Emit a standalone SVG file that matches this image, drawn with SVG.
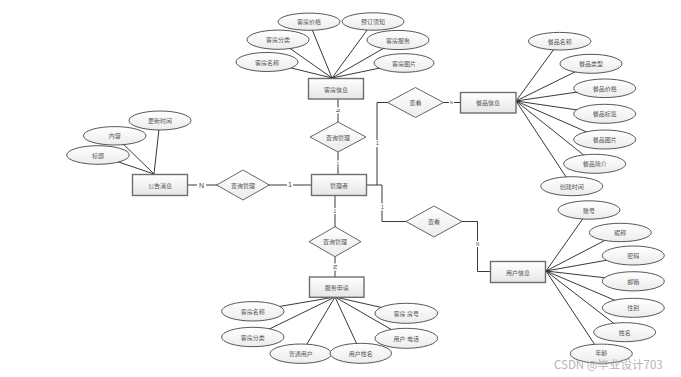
<svg xmlns="http://www.w3.org/2000/svg" width="681" height="377" viewBox="0 0 681 377">
<defs>
<linearGradient id="gb" x1="0" y1="0" x2="0" y2="1"><stop offset="0" stop-color="#ffffff"/><stop offset="1" stop-color="#e6e6e6"/></linearGradient>
<linearGradient id="ge" x1="0" y1="0" x2="0" y2="1"><stop offset="0" stop-color="#ffffff"/><stop offset="1" stop-color="#ececec"/></linearGradient>
<style>
.box{fill:url(#gb);stroke:#6e6e6e;stroke-width:1.4}
.ell{fill:url(#ge);stroke:#444;stroke-width:0.9}
.dia{fill:url(#ge);stroke:#555;stroke-width:0.9}
.t{font-family:"Noto Sans CJK SC","Liberation Sans",sans-serif;font-size:6px;fill:#555;text-anchor:middle;dominant-baseline:central}
.c{font-family:"Liberation Sans",sans-serif;font-size:5px;fill:#444;text-anchor:middle;dominant-baseline:central}
.ln{stroke:#222;stroke-width:0.9;fill:none}
</style>
</defs>
<rect width="681" height="377" fill="#ffffff"/>
<g id="connectors">
<line class="ln" x1="309" y1="22" x2="332" y2="78"/>
<line class="ln" x1="373" y1="22" x2="332" y2="78"/>
<line class="ln" x1="278" y1="40" x2="332" y2="78"/>
<line class="ln" x1="398" y1="40" x2="332" y2="78"/>
<line class="ln" x1="267" y1="62" x2="332" y2="78"/>
<line class="ln" x1="404" y1="63" x2="332" y2="78"/>
<line class="ln" x1="338" y1="99" x2="338" y2="122"/>
<line class="ln" x1="338" y1="152" x2="338" y2="174"/>
<line class="ln" x1="160" y1="120" x2="154" y2="174"/>
<line class="ln" x1="115" y1="136" x2="154" y2="174"/>
<line class="ln" x1="98" y1="155" x2="154" y2="174"/>
<line class="ln" x1="188" y1="185" x2="217" y2="185"/>
<line class="ln" x1="269" y1="185" x2="311" y2="185"/>
<line class="ln" x1="366" y1="185" x2="382" y2="185" stroke-width="1.8"/>
<polyline class="ln" points="377,185 377,102.5 388,102.5"/>
<line class="ln" x1="443" y1="102.5" x2="460" y2="102.5"/>
<line class="ln" x1="560" y1="41" x2="516" y2="101"/>
<line class="ln" x1="591" y1="64" x2="516" y2="101"/>
<line class="ln" x1="605" y1="88" x2="516" y2="101"/>
<line class="ln" x1="605" y1="114" x2="516" y2="101"/>
<line class="ln" x1="605" y1="140" x2="516" y2="101"/>
<line class="ln" x1="595" y1="164" x2="516" y2="101"/>
<line class="ln" x1="572" y1="186" x2="516" y2="101"/>
<polyline class="ln" points="382,185 382,221.5 406,221.5"/>
<polyline class="ln" points="461.5,221.5 477.5,221.5 477.5,271.5 490,271.5"/>
<line class="ln" x1="589" y1="210" x2="546" y2="271"/>
<line class="ln" x1="620" y1="232.5" x2="546" y2="271"/>
<line class="ln" x1="633" y1="255.5" x2="546" y2="271"/>
<line class="ln" x1="633" y1="281" x2="546" y2="271"/>
<line class="ln" x1="633" y1="308" x2="546" y2="271"/>
<line class="ln" x1="625" y1="332" x2="546" y2="271"/>
<line class="ln" x1="601" y1="354" x2="546" y2="271"/>
<line class="ln" x1="335" y1="195" x2="335" y2="227"/>
<line class="ln" x1="335" y1="257" x2="335" y2="277"/>
<line class="ln" x1="253" y1="311" x2="335" y2="297"/>
<line class="ln" x1="253" y1="337" x2="335" y2="297"/>
<line class="ln" x1="301" y1="354" x2="335" y2="297"/>
<line class="ln" x1="361" y1="353" x2="335" y2="297"/>
<line class="ln" x1="406" y1="313" x2="335" y2="297"/>
<line class="ln" x1="406" y1="338" x2="335" y2="297"/>
<rect x="335" y="107.5" width="6" height="6" fill="#fff"/>
<text class="c" transform="translate(338,110.5) rotate(90)">N</text>
<rect x="335" y="160.5" width="6" height="6" fill="#fff"/>
<text class="c" x="338" y="163.5">1</text>
<rect x="197" y="181" width="9" height="8" fill="#fff"/>
<text class="c" x="201.5" y="185" style="font-size:7px">N</text>
<rect x="287" y="181" width="6" height="8" fill="#fff"/>
<text class="c" x="290" y="184.5" style="font-size:7px">1</text>
<rect x="375" y="140" width="5" height="7" fill="#fff"/>
<text class="c" x="377.3" y="143.3">1</text>
<rect x="449" y="100" width="5" height="5" fill="#fff"/>
<text class="c" x="451.5" y="102.5" style="font-size:4px">N</text>
<rect x="380" y="203.5" width="5" height="7" fill="#fff"/>
<text class="c" x="382.3" y="206.7">1</text>
<rect x="475" y="241" width="5" height="6" fill="#fff"/>
<text class="c" x="477.5" y="244" style="font-size:4.5px">N</text>
<rect x="332" y="208" width="6" height="6" fill="#fff"/>
<text class="c" x="335" y="211">1</text>
<rect x="331.5" y="263.5" width="7" height="7" fill="#fff"/>
<text class="c" transform="translate(335,267) rotate(90)" style="font-size:6px">N</text>
</g>
<g id="room-info">
<rect class="box" x="308.5" y="78.5" width="55" height="20.5"/>
<text class="t" x="336" y="89">客房信息</text>
</g>
<g id="room-price"><ellipse class="ell" cx="309" cy="21.7" rx="31" ry="8.6"/><text class="t" x="309" y="21.7">客房价格</text></g>
<g id="room-notice"><ellipse class="ell" cx="373" cy="21.5" rx="31" ry="8.7"/><text class="t" x="373" y="21.5">预订须知</text></g>
<g id="room-category"><ellipse class="ell" cx="278" cy="39.7" rx="31" ry="9.6"/><text class="t" x="278" y="39.7">客房分类</text></g>
<g id="room-service"><ellipse class="ell" cx="398" cy="40" rx="31" ry="9.6"/><text class="t" x="398" y="40">客房服务</text></g>
<g id="room-name"><ellipse class="ell" cx="267" cy="62" rx="31" ry="9.5"/><text class="t" x="267" y="62">客房名称</text></g>
<g id="room-image"><ellipse class="ell" cx="404" cy="63" rx="30" ry="9.3"/><text class="t" x="404" y="63">客房图片</text></g>
<g id="query-room"><polygon class="dia" points="310,137 338,122 366,137 338,152"/><text class="t" x="338" y="137">查询管理</text></g>
<g id="manager">
<rect class="box" x="311.5" y="174.5" width="55" height="21"/>
<text class="t" x="339" y="185">管理者</text>
</g>
<g id="notice-info">
<rect class="box" x="132.5" y="174.5" width="55" height="21"/>
<text class="t" x="160" y="185">公告消息</text>
</g>
<g id="notice-time"><ellipse class="ell" cx="160" cy="120.5" rx="31" ry="9.5"/><text class="t" x="160" y="120.5">更新时间</text></g>
<g id="notice-content"><ellipse class="ell" cx="114.7" cy="135.8" rx="31.3" ry="9.2"/><text class="t" x="114.7" y="135.8">内容</text></g>
<g id="notice-title"><ellipse class="ell" cx="98" cy="155" rx="31.3" ry="9.3"/><text class="t" x="98" y="155">标题</text></g>
<g id="query-notice"><polygon class="dia" points="216.7,185 243,170 269.3,185 243,200"/><text class="t" x="243" y="185">查询管理</text></g>
<g id="view-food"><polygon class="dia" points="387.5,102.5 415.5,87.5 443.5,102.5 415.5,117.5"/><text class="t" x="415.5" y="102.5">查看</text></g>
<g id="food-info">
<rect class="box" x="460.5" y="92.5" width="55.5" height="20.5"/>
<text class="t" x="488" y="102.8">餐品信息</text>
</g>
<g id="food-name"><ellipse class="ell" cx="559.7" cy="41.2" rx="31.3" ry="8.8"/><text class="t" x="559.7" y="41.2">餐品名称</text></g>
<g id="food-type"><ellipse class="ell" cx="591" cy="63.8" rx="31" ry="9.5"/><text class="t" x="591" y="63.8">餐品类型</text></g>
<g id="food-price"><ellipse class="ell" cx="604.7" cy="88.3" rx="31" ry="9.3"/><text class="t" x="604.7" y="88.3">餐品价格</text></g>
<g id="food-tag"><ellipse class="ell" cx="604.7" cy="113.8" rx="31" ry="9.5"/><text class="t" x="604.7" y="113.8">餐品标签</text></g>
<g id="food-image"><ellipse class="ell" cx="604.7" cy="139.5" rx="31" ry="9.5"/><text class="t" x="604.7" y="139.5">餐品图片</text></g>
<g id="food-intro"><ellipse class="ell" cx="594.7" cy="163.8" rx="31" ry="9.5"/><text class="t" x="594.7" y="163.8">餐品简介</text></g>
<g id="food-created"><ellipse class="ell" cx="571.7" cy="186.2" rx="31" ry="9.5"/><text class="t" x="571.7" y="186.2">创建时间</text></g>
<g id="view-user"><polygon class="dia" points="406,221.5 434,206 462,221.5 434,237"/><text class="t" x="434" y="221.5">查看</text></g>
<g id="user-info">
<rect class="box" x="490.5" y="261.5" width="55" height="21"/>
<text class="t" x="518" y="272">用户信息</text>
</g>
<g id="user-account"><ellipse class="ell" cx="589" cy="210" rx="31" ry="9.2"/><text class="t" x="589" y="210">账号</text></g>
<g id="user-nick"><ellipse class="ell" cx="620.3" cy="232.5" rx="31" ry="9.2"/><text class="t" x="620.3" y="232.5">昵称</text></g>
<g id="user-password"><ellipse class="ell" cx="633.3" cy="255.5" rx="31" ry="9.5"/><text class="t" x="633.3" y="255.5">密码</text></g>
<g id="user-email"><ellipse class="ell" cx="633.3" cy="281.3" rx="31" ry="9.6"/><text class="t" x="633.3" y="281.3">邮箱</text></g>
<g id="user-gender"><ellipse class="ell" cx="633.3" cy="307.8" rx="31" ry="9.5"/><text class="t" x="633.3" y="307.8">性别</text></g>
<g id="user-name"><ellipse class="ell" cx="624.7" cy="332.2" rx="31" ry="9.5"/><text class="t" x="624.7" y="332.2">姓名</text></g>
<g id="user-age"><ellipse class="ell" cx="601.3" cy="353.7" rx="31" ry="9.6"/><text class="t" x="601.3" y="352.5">年龄</text></g>
<g id="query-service"><polygon class="dia" points="309,241.7 335,226.7 361,241.7 335,256.7"/><text class="t" x="335" y="241.7">查询管理</text></g>
<g id="service-apply">
<rect class="box" x="309.5" y="277" width="54.5" height="20.3"/>
<text class="t" x="336.7" y="287.2">服务申请</text>
</g>
<g id="svc-room-name"><ellipse class="ell" cx="252.8" cy="311.3" rx="31.2" ry="9.7"/><text class="t" x="252.8" y="311.3">客房名称</text></g>
<g id="svc-room-category"><ellipse class="ell" cx="252.8" cy="337" rx="31.2" ry="9.7"/><text class="t" x="252.8" y="337">客房分类</text></g>
<g id="svc-user"><ellipse class="ell" cx="300.8" cy="353.7" rx="30.8" ry="9.7"/><text class="t" x="300.8" y="353.7">普通用户</text></g>
<g id="svc-user-name"><ellipse class="ell" cx="360.8" cy="353.3" rx="30.8" ry="10"/><text class="t" x="360.8" y="353.3">用户姓名</text></g>
<g id="svc-room-no"><ellipse class="ell" cx="406.3" cy="313.3" rx="31.3" ry="10"/><text class="t" x="406.3" y="313.3">客房 房号</text></g>
<g id="svc-phone"><ellipse class="ell" cx="406.3" cy="338.3" rx="31.3" ry="10"/><text class="t" x="406.3" y="338.3">用户 电话</text></g>
<text x="554" y="369" style="font-family:'Noto Sans CJK SC','Liberation Sans',sans-serif;font-size:11.5px;fill:#b4b4b4">CSDN @毕业设计703</text>
</svg>
